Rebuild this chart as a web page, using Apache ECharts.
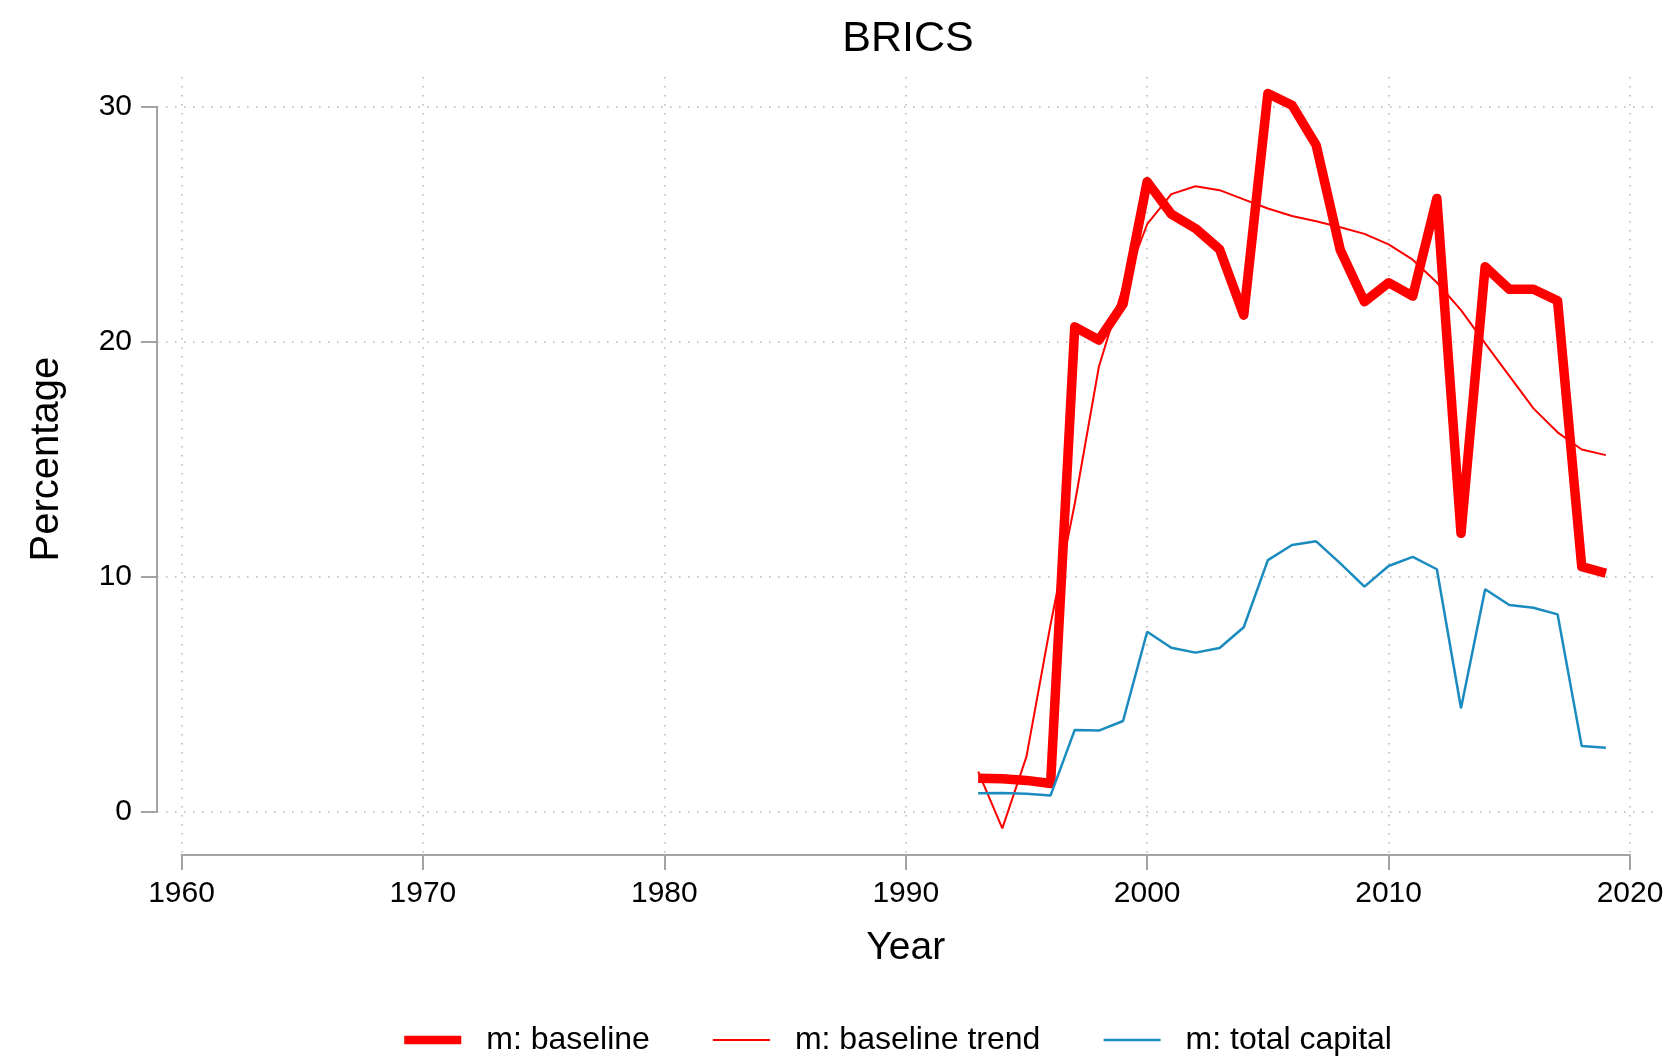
<!DOCTYPE html>
<html>
<head>
<meta charset="utf-8">
<title>BRICS</title>
<script src="https://cdn.jsdelivr.net/npm/echarts@6/dist/echarts.min.js"></script>
<style>
  html, body { margin: 0; padding: 0; background: #fff; }
  #chart { width: 1674px; height: 1059px; }
</style>
</head>
<body>
<div id="chart"></div>
<script>
// 数据
const years = [1993, 1994, 1995, 1996, 1997, 1998, 1999, 2000, 2001, 2002, 2003, 2004, 2005, 2006,
    2007, 2008, 2009, 2010, 2011, 2012, 2013, 2014, 2015, 2016, 2017, 2018, 2019];
const baseline = [1.41, 1.39, 1.32, 1.19, 20.63, 20.07, 21.6, 26.81, 25.43, 24.82, 23.93, 21.13, 30.57, 30.07,
    28.37, 23.9, 21.7, 22.51, 21.94, 26.1, 11.84, 23.19, 22.23, 22.23, 21.74, 10.42, 10.14];
const baselineTrend = [1.69, -0.72, 2.33, 7.97, 13.1, 18.93, 22.3, 25.0, 26.28, 26.62, 26.45, 26.06, 25.67, 25.35,
    25.13, 24.87, 24.59, 24.14, 23.49, 22.52, 21.34, 19.93, 18.54, 17.16, 16.14, 15.41, 15.17];
const totalCapital = [0.77, 0.78, 0.75, 0.68, 3.47, 3.44, 3.85, 7.65, 6.97, 6.76, 6.96, 7.84, 10.7, 11.34,
    11.5, 10.56, 9.57, 10.45, 10.84, 10.31, 4.39, 9.46, 8.79, 8.67, 8.39, 2.78, 2.71];

const seriesNames = ['m: baseline', 'm: baseline trend', 'm: total capital'];
const xTicks = { min: 1960, max: 2020, interval: 10 };
const yTicks = { min: 0, max: 30, interval: 10 };

const FONT = '"Liberation Sans", Arial, Helvetica, sans-serif';
const AXIS_GRAY = '#a3a3a3';
const GRID_GRAY = '#b4b4b4';
const BLUE = '#1a8bbf';

// 绘图区几何（像素）
const plotLeft = 181.5, plotWidth = 1448.5;
const plotTop = 106.8, plotHeight = 704.6;

const chart = echarts.init(document.getElementById('chart'));

const toPairs = vals => years.map((y, i) => [y, vals[i]]);

const dotted = { color: GRID_GRAY, width: 1.5, type: [1.5, 7.5] };

chart.setOption({
    animation: false,
    backgroundColor: '#fff',
    title: {
        text: 'BRICS',
        left: 903, top: 13,
        textAlign: 'center',
        textStyle: { fontFamily: FONT, fontSize: 43, fontWeight: 'normal', color: '#000' }
    },
    legend: {
        left: 395, top: 1019,
        itemWidth: 57, itemHeight: 10, itemGap: 62,
        textStyle: { fontFamily: FONT, fontSize: 32, color: '#000', padding: [0, 0, 0, 20] },
        data: [
            { name: seriesNames[0], lineStyle: { width: 8.5 }, itemStyle: { opacity: 0 } },
            { name: seriesNames[1], lineStyle: { width: 2 }, itemStyle: { opacity: 0 } },
            { name: seriesNames[2], lineStyle: { width: 2.5 }, itemStyle: { opacity: 0 } }
        ]
    },
    grid: [
        // 数据区
        { left: plotLeft, top: plotTop, width: plotWidth, height: plotHeight },
        // x 轴 + 竖向网格线
        { left: plotLeft, top: 77, width: plotWidth, height: 778 },
        // y 轴 + 横向网格线
        { left: 157, top: plotTop, width: 1501, height: plotHeight }
    ],
    xAxis: [
        { gridIndex: 0, type: 'value', min: xTicks.min, max: xTicks.max, show: false },
        {
            gridIndex: 1, type: 'value', min: xTicks.min, max: xTicks.max, interval: xTicks.interval,
            name: 'Year', nameLocation: 'middle', nameGap: 74,
            nameTextStyle: { fontFamily: FONT, fontSize: 39, color: '#000' },
            axisLine: { show: true, lineStyle: { color: AXIS_GRAY, width: 2 } },
            axisTick: { show: true, length: 15, lineStyle: { color: AXIS_GRAY, width: 2 } },
            axisLabel: { margin: 24, fontFamily: FONT, fontSize: 30, color: '#000', formatter: v => String(v) },
            splitLine: { show: true, lineStyle: dotted }
        },
        { gridIndex: 2, type: 'value', min: 0, max: 1, show: false }
    ],
    yAxis: [
        { gridIndex: 0, type: 'value', min: yTicks.min, max: yTicks.max, show: false },
        { gridIndex: 1, type: 'value', min: 0, max: 1, show: false },
        {
            gridIndex: 2, type: 'value', min: yTicks.min, max: yTicks.max, interval: yTicks.interval,
            name: 'Percentage', nameLocation: 'middle', nameGap: 90,
            nameTextStyle: { fontFamily: FONT, fontSize: 40, color: '#000' },
            axisLine: { show: true, lineStyle: { color: AXIS_GRAY, width: 2 } },
            axisTick: { show: true, length: 16, lineStyle: { color: AXIS_GRAY, width: 2 } },
            axisLabel: { margin: 25, fontFamily: FONT, fontSize: 30, color: '#000' },
            splitLine: { show: true, lineStyle: dotted }
        }
    ],
    series: [
        {
            name: seriesNames[0], type: 'line', xAxisIndex: 0, yAxisIndex: 0,
            data: toPairs(baseline), symbol: 'none', clip: false,
            itemStyle: { color: '#ff0000' },
            lineStyle: { color: '#ff0000', width: 9.5, join: 'round' }
        },
        {
            name: seriesNames[1], type: 'line', xAxisIndex: 0, yAxisIndex: 0,
            data: toPairs(baselineTrend), symbol: 'none', clip: false,
            itemStyle: { color: '#ff0000' },
            lineStyle: { color: '#ff0000', width: 2 }
        },
        {
            name: seriesNames[2], type: 'line', xAxisIndex: 0, yAxisIndex: 0,
            data: toPairs(totalCapital), symbol: 'none', clip: false,
            itemStyle: { color: BLUE },
            lineStyle: { color: BLUE, width: 2.5 }
        }
    ]
});

window.addEventListener('resize', () => chart.resize());
</script>
</body>
</html>
